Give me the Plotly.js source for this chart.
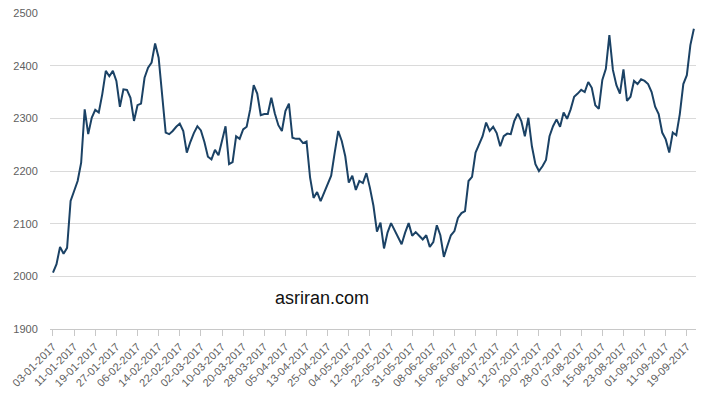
<!DOCTYPE html>
<html>
<head>
<meta charset="utf-8">
<script src="https://cdn.plot.ly/plotly-3.0.1.min.js"></script>
<style>
  html, body { margin: 0; padding: 0; background: #ffffff; }
  #chart { width: 703px; height: 396px; }
</style>
</head>
<body>
<div id="chart"></div>
<script>
// Tick labels (every 6th trading day)
const tickLabels = [
  "03-01-2017","11-01-2017","19-01-2017","27-01-2017","06-02-2017","14-02-2017",
  "22-02-2017","02-03-2017","10-03-2017","20-03-2017","28-03-2017","05-04-2017",
  "13-04-2017","25-04-2017","04-05-2017","12-05-2017","22-05-2017","31-05-2017",
  "08-06-2017","16-06-2017","26-06-2017","04-07-2017","12-07-2017","20-07-2017",
  "28-07-2017","07-08-2017","15-08-2017","23-08-2017","01-09-2017","11-09-2017",
  "19-09-2017"
];

// Series values (one per trading day)
const values = [
  2007,2023,2056,2043,2054,2143,2162,2181,2216,2317,
  2270,2301,2316,2311,2346,2390,2380,2390,2371,2322,
  2355,2354,2339,2295,2325,2328,2377,2396,2406,2442,
  2415,2342,2273,2270,2276,2284,2290,2276,2235,2255,
  2272,2285,2277,2255,2227,2222,2240,2230,2259,2285,
  2213,2217,2266,2261,2279,2284,2317,2363,2347,2306,
  2308,2308,2339,2309,2287,2276,2314,2328,2263,2261,
  2261,2253,2256,2188,2149,2160,2143,2158,2173,2191,
  2235,2276,2257,2228,2178,2191,2164,2181,2177,2196,
  2168,2134,2085,2102,2053,2083,2101,2088,2073,2061,
  2083,2101,2077,2084,2077,2070,2078,2056,2065,2097,
  2078,2037,2058,2078,2086,2111,2120,2124,2181,2189,
  2235,2249,2266,2292,2276,2284,2272,2247,2266,2271,
  2270,2295,2309,2295,2266,2301,2247,2213,2200,2209,
  2221,2266,2285,2298,2284,2311,2299,2317,2341,2347,
  2354,2350,2369,2358,2325,2318,2373,2394,2458,2392,
  2363,2347,2393,2333,2341,2371,2365,2374,2371,2365,
  2350,2322,2308,2273,2260,2235,2273,2268,2308,2365,
  2382,2439,2470
];

const xIdx = values.map((_, i) => i);
const tickPos = tickLabels.map((_, k) => k * 6);

const trace = {
  type: 'scatter',
  mode: 'lines',
  x: xIdx,
  y: values,
  line: { color: '#1b4265', width: 2 },
  hoverinfo: 'y'
};

const layout = {
  width: 703,
  height: 396,
  margin: { l: 50, r: 7, t: 13, b: 67 },
  paper_bgcolor: '#ffffff',
  plot_bgcolor: '#ffffff',
  showlegend: false,
  font: { family: 'Liberation Sans, Arial, sans-serif', size: 11, color: '#606060' },
  xaxis: {
    type: 'linear',
    range: [-0.85, 182.6],
    tickmode: 'array',
    tickvals: tickPos,
    ticktext: tickLabels,
    tickangle: -45,
    ticks: 'outside',
    ticklen: 6,
    tickcolor: '#c8c8c8',
    showline: true,
    linecolor: '#c8c8c8',
    linewidth: 1,
    showgrid: false,
    zeroline: false,
    automargin: false,
    tickfont: { size: 11, color: '#606060' }
  },
  yaxis: {
    range: [1900, 2500],
    tickmode: 'array',
    tickvals: [1900, 2000, 2100, 2200, 2300, 2400, 2500],
    ticks: 'outside',
    ticklen: 9,
    tickcolor: 'rgba(0,0,0,0)',
    showline: false,
    showgrid: true,
    gridcolor: '#dadada',
    gridwidth: 1,
    zeroline: false,
    automargin: false,
    tickfont: { size: 11, color: '#606060' }
  },
  annotations: [{
    text: 'asriran.com',
    xref: 'paper', yref: 'paper',
    x: 0.421, y: 0.098,
    xanchor: 'center', yanchor: 'middle',
    showarrow: false,
    font: { family: 'Liberation Sans, Arial, sans-serif', size: 18, color: '#111111' }
  }]
};

Plotly.newPlot('chart', [trace], layout, { displayModeBar: false, staticPlot: true });
</script>
</body>
</html>
